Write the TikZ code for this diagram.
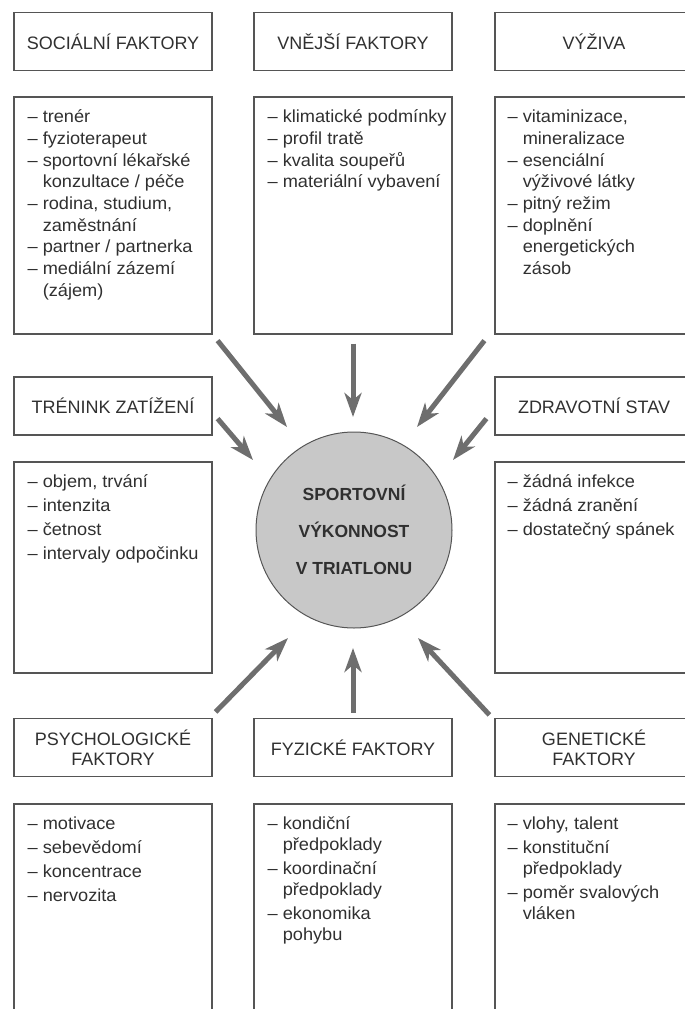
\documentclass[tikz,border=0pt]{standalone}
\usepackage{fontspec}
\setmainfont{Liberation Sans}
\newfontfamily\bodyfont{Liberation Sans}[FakeStretch=1.04]
\usetikzlibrary{arrows.meta,calc}
\definecolor{boxline}{HTML}{555555}
\definecolor{txt}{HTML}{303030}
\definecolor{arrcol}{HTML}{6E6E6E}
\definecolor{circfill}{HTML}{C8C8C8}
\begin{document}
\begin{tikzpicture}[x=1pt,y=-1pt,
  hdr/.style={draw=boxline, line width=1.2pt, minimum width=198pt, minimum height=58pt,
    inner sep=0pt, font=\fontsize{18pt}{20pt}\selectfont, text=txt, align=center},
  cbox/.style={draw=boxline, line width=1.2pt, minimum width=198pt, inner sep=0pt},
  lst/.style={anchor=north west, inner sep=0pt, align=left,
    font=\bodyfont\fontsize{17.5pt}{21.7pt}\selectfont, text=txt},
  lsti/.style={lst, font=\bodyfont\fontsize{17.5pt}{21pt}\selectfont},
  flow/.style={draw=arrcol, line width=5pt, -{Stealth[length=24pt,width=17pt,inset=7pt]}}]
\useasboundingbox (0,0) rectangle (685,1009);
\clip (0,0) rectangle (685,1009);
\def\ind{\phantom{– }}
% row 1
\node[hdr] (Lh1) at (113,41.5) {SOCIÁLNÍ FAKTORY};
\node[hdr] (Mh1) at (353,41.5) {VNĚJŠÍ FAKTORY};
\node[hdr] (Rh1) at (594,41.5) {VÝŽIVA};
\node[cbox, minimum height=237pt] (Lc1) at (113,215.5) {};
\node[cbox, minimum height=237pt] (Mc1) at (353,215.5) {};
\node[cbox, minimum height=237pt] (Rc1) at (594,215.5) {};
\node[lst] (Lt1) at ($(Lc1.north west)+(14,11)$) {\strut– trenér\\– fyzioterapeut\\– sportovní lékařské\\\ind konzultace / péče\\– rodina, studium,\\\ind zaměstnání\\– partner / partnerka\\– mediální zázemí\\\ind (zájem)};
\node[lst] (Mt1) at ($(Mc1.north west)+(14,11)$) {\strut– klimatické podmínky\\– profil tratě\\– kvalita soupeřů\\– materiální vybavení};
\node[lst] (Rt1) at ($(Rc1.north west)+(13,11)$) {\strut– vitaminizace,\\\ind mineralizace\\– esenciální\\\ind výživové látky\\– pitný režim\\– doplnění\\\ind energetických\\\ind zásob};
% row 2
\node[hdr] (Lh2) at (113,406) {TRÉNINK ZATÍŽENÍ};
\node[hdr] (Rh2) at (594,406) {ZDRAVOTNÍ STAV};
\node[cbox, minimum height=211pt] (Lc2) at (113,567.5) {};
\node[cbox, minimum height=211pt] (Rc2) at (594,567.5) {};
\node[lsti] (Lt2) at ($(Lc2.north west)+(14,11)$) {\strut– objem, trvání\\[3pt]– intenzita\\[3pt]– četnost\\[3pt]– intervaly odpočinku};
\node[lsti] (Rt2) at ($(Rc2.north west)+(13,11)$) {\strut– žádná infekce\\[3pt]– žádná zranění\\[3pt]– dostatečný spánek};
% row 3
\node[hdr] (Lh3) at (113,747.5) {PSYCHOLOGICKÉ\\FAKTORY};
\node[hdr] (Mh3) at (353,747.5) {FYZICKÉ FAKTORY};
\node[hdr] (Rh3) at (594,747.5) {GENETICKÉ\\FAKTORY};
\node[cbox, minimum height=226pt] (Lc3) at (113,917) {};
\node[cbox, minimum height=226pt] (Mc3) at (353,917) {};
\node[cbox, minimum height=226pt] (Rc3) at (594,917) {};
\node[lsti] (Lt3) at ($(Lc3.north west)+(14,11)$) {\strut– motivace\\[3pt]– sebevědomí\\[3pt]– koncentrace\\[3pt]– nervozita};
\node[lsti] (Mt3) at ($(Mc3.north west)+(14,11)$) {\strut– kondiční\\\ind předpoklady\\[3pt]– koordinační\\\ind předpoklady\\[3pt]– ekonomika\\\ind pohybu};
\node[lsti] (Rt3) at ($(Rc3.north west)+(13,11)$) {\strut– vlohy, talent\\[3pt]– konstituční\\\ind předpoklady\\[3pt]– poměr svalových\\\ind vláken};
% centre
\node[circle, draw=boxline, line width=1pt, fill=circfill, minimum size=196pt, inner sep=0pt,
  align=center, text=txt, font=\bfseries\fontsize{17.5pt}{37pt}\selectfont] (circ) at (354,530)
  {SPORTOVNÍ\\VÝKONNOST\\V TRIATLONU};
% arrows
\draw[flow] ($(Lc1.south east)+(5,6)$) -- ($(circ.center)+(-67,-103)$);
\draw[flow] ($(Mc1.south)+(0,9)$) -- ($(circ.center)+(-1,-113)$);
\draw[flow] ($(Rc1.south west)+(-10,6)$) -- ($(circ.center)+(63,-103)$);
\draw[flow] ($(Lh2.south east)+(5,-17)$) -- ($(circ.center)+(-101,-70)$);
\draw[flow] ($(Rh2.south west)+(-8,-17)$) -- ($(circ.center)+(99,-70)$);
\draw[flow] ($(Lh3.north east)+(3,-6)$) -- ($(circ.center)+(-66,108)$);
\draw[flow] ($(Mh3.north)+(0,-5)$) -- ($(circ.center)+(-1,118)$);
\draw[flow] ($(Rh3.north west)+(-5,-3)$) -- ($(circ.center)+(64,108)$);
\end{tikzpicture}
\end{document}
